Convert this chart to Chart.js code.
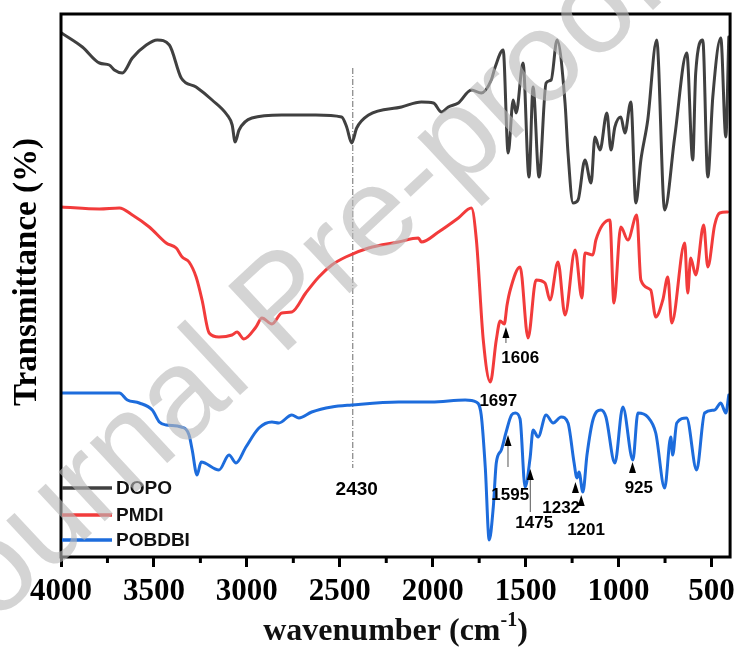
<!DOCTYPE html>
<html><head><meta charset="utf-8">
<script src="https://cdn.jsdelivr.net/npm/chart.js@4.4.1/dist/chart.umd.min.js"></script>
<style>html,body{margin:0;padding:0;background:#fff}#wrap{width:741px;height:647px}</style>
</head><body><div id="wrap"><canvas id="c" width="741" height="647"></canvas></div>
<script>
// ---- data (values in arbitrary transmittance units, offset per curve) ----
const dopoWavenumber = [3997,3885,3793,3740,3713,3670,3616,3541,3482,3417,3353,3273,3187,3106,3079,3063,3042,2973,2812,2629,2490,2463,2436,2409,2345,2168,2061,1996,1953,1916,1862,1792,1739,1685,1664,1621,1594,1567,1551,1514,1482,1460,1428,1390,1363,1331,1288,1272,1245,1218,1181,1148,1127,1100,1063,1041,1020,988,966,934,907,880,843,795,752,698,633,601,585,547,520,493,450,423,407];
const dopoValue      = [524,510,494,492,487,484,499,512,517,512,479,470,457,442,432,415,427,439,442,442,440,430,414,429,442,450,455,454,445,450,454,467,464,477,490,507,404,457,444,494,380,470,380,474,477,517,454,404,354,357,397,374,420,407,444,407,430,440,424,455,354,397,437,517,347,420,504,397,484,517,380,460,519,420,520];

const pmdiWavenumber = [3997,3793,3686,3616,3525,3434,3380,3348,3311,3273,3241,3203,3150,3080,3053,3016,2951,2919,2865,2812,2758,2683,2613,2543,2468,2345,2184,2077,2061,1969,1862,1792,1765,1728,1690,1658,1637,1615,1600,1583,1530,1487,1444,1396,1369,1326,1288,1234,1197,1181,1138,1122,1047,1025,988,950,902,880,827,800,762,735,714,644,628,612,585,542,520,483,456,413];
const pmdiValue      = [350,348,349,342,330,314,309,300,295,280,257,224,220,222,225,218,230,239,233,244,245,264,280,292,300,309,315,319,315,325,339,349,317,217,175,217,236,233,252,267,290,219,277,274,257,295,242,307,259,304,302,317,337,254,330,317,342,277,267,240,257,280,234,314,264,299,282,332,290,332,344,345];

const pobdbiWavenumber = [3997,3686,3643,3579,3509,3471,3434,3353,3311,3294,3268,3246,3150,3096,3058,3005,2935,2865,2828,2758,2720,2651,2543,2436,2184,2007,1825,1766,1739,1717,1696,1674,1658,1631,1605,1576,1556,1530,1503,1476,1460,1433,1390,1352,1309,1272,1240,1224,1213,1192,1170,1138,1095,1068,1020,977,923,896,843,800,752,719,709,687,634,580,537,483,450,423,407];
const pobdbiValue      = [164,164,157,154,147,135,132,130,122,107,82,95,87,102,94,110,129,135,134,142,139,145,150,152,155,155,157,155,142,89,17,50,94,107,125,142,144,138,70,99,127,120,142,134,140,134,95,79,85,65,102,137,147,140,94,150,97,144,140,124,69,120,102,134,139,87,144,147,154,144,162];

const seriesNames  = ['DOPO','PMDI','POBDBI'];
const seriesColors = ['#404040','#f23b3b','#1d6cdc'];

const xTickValues      = [4000,3500,3000,2500,2000,1500,1000,500];
const xMinorTickValues = [3750,3250,2750,2250,1750,1250,750];

const peakLabels          = ['1697','1606','1595','1475','1232','1201','925'];
const peakLabelWavenumber = [1647,1529,1583,1454,1309,1175,891];
const peakLabelValue      = [156,199,62,34,49,27,69];

const arrowWavenumber = [1606,1595,1475,1232,1201,925];
const arrowTipValue   = [230,122,88,75,62,95];
const arrowTailValue  = [214,90,45,65,52,84];

const refLineLabel = '2430';
const refLineWavenumber = 2430;
const refLineRange = [89, 489];
const refLabelWavenumber = 2409;
const refLabelValue = 67;

const yTitle = 'Transmittance (%)';
const xTitleMain = 'wavenumber (cm';
const xTitleSup = '-1';
const xTitleEnd = ')';
const watermark = 'Journal Pre-proof';

// ---- build ----
const series = [
  [dopoWavenumber, dopoValue],
  [pmdiWavenumber, pmdiValue],
  [pobdbiWavenumber, pobdbiValue]
];
const datasets = series.map((s, i) => ({
  label: seriesNames[i],
  data: s[0].map((w, j) => ({x: w, y: s[1][j]})),
  borderColor: seriesColors[i],
  backgroundColor: seriesColors[i],
  borderWidth: 3,
  borderJoinStyle: 'round',
  borderCapStyle: 'round',
  pointRadius: 0,
  cubicInterpolationMode: 'monotone',
  fill: false
}));

const decor = {
  id: 'decor',
  beforeDatasetsDraw(chart) {
    const {ctx, scales: {x, y}} = chart;
    ctx.save();
    ctx.strokeStyle = '#6a6a6a';
    ctx.lineWidth = 1;
    ctx.setLineDash([6, 2, 1, 2]);
    const px = x.getPixelForValue(refLineWavenumber);
    ctx.beginPath();
    ctx.moveTo(px, y.getPixelForValue(refLineRange[1]));
    ctx.lineTo(px, y.getPixelForValue(refLineRange[0]));
    ctx.stroke();
    ctx.restore();
  },
  afterDraw(chart) {
    const {ctx, chartArea: a, scales: {x, y}} = chart;
    ctx.save();
    // minor ticks
    ctx.strokeStyle = '#000';
    ctx.lineWidth = 3;
    xMinorTickValues.forEach(v => {
      const px = x.getPixelForValue(v);
      ctx.beginPath(); ctx.moveTo(px, a.bottom); ctx.lineTo(px, a.bottom + 6); ctx.stroke();
    });
    // frame
    ctx.lineWidth = 3;
    ctx.strokeRect(a.left, a.top, a.right - a.left, a.bottom - a.top);

    // arrows
    arrowWavenumber.forEach((w, i) => {
      const px = x.getPixelForValue(w);
      const tip = y.getPixelForValue(arrowTipValue[i]);
      const tail = y.getPixelForValue(arrowTailValue[i]);
      if (tail - tip > 12) {
        ctx.strokeStyle = '#555';
        ctx.lineWidth = 1;
        ctx.beginPath(); ctx.moveTo(px, tip + 6); ctx.lineTo(px, tail); ctx.stroke();
      }
      ctx.fillStyle = '#000';
      ctx.beginPath();
      ctx.moveTo(px, tip);
      ctx.lineTo(px - 3.5, tip + 11);
      ctx.lineTo(px + 3.5, tip + 11);
      ctx.closePath();
      ctx.fill();
    });

    // peak labels
    ctx.fillStyle = '#000';
    ctx.font = 'bold 17px "Liberation Sans", Arial, sans-serif';
    ctx.textAlign = 'center';
    ctx.textBaseline = 'middle';
    peakLabels.forEach((t, i) => {
      ctx.fillText(t, x.getPixelForValue(peakLabelWavenumber[i]), y.getPixelForValue(peakLabelValue[i]));
    });
    ctx.font = 'bold 19px "Liberation Sans", Arial, sans-serif';
    ctx.fillText(refLineLabel, x.getPixelForValue(refLabelWavenumber), y.getPixelForValue(refLabelValue));

    // legend
    const legY = [a.bottom - 69, a.bottom - 42, a.bottom - 17];
    seriesNames.forEach((n, i) => {
      ctx.strokeStyle = seriesColors[i];
      ctx.lineWidth = 3.5;
      ctx.beginPath(); ctx.moveTo(a.left + 1, legY[i]); ctx.lineTo(a.left + 51, legY[i]); ctx.stroke();
      ctx.fillStyle = '#111';
      ctx.textAlign = 'left';
      ctx.fillText(n, a.left + 55, legY[i] + 1);
    });

    // y title
    ctx.save();
    ctx.translate(27, 272);
    ctx.rotate(-Math.PI / 2);
    ctx.font = 'bold 33px "Liberation Serif", "Times New Roman", serif';
    ctx.textAlign = 'center';
    ctx.textBaseline = 'middle';
    ctx.fillStyle = '#000';
    ctx.fillText(yTitle, 0, 0);
    ctx.restore();

    // x title with superscript
    const fMain = 'bold 32px "Liberation Serif", "Times New Roman", serif';
    const fSup = 'bold 20px "Liberation Serif", "Times New Roman", serif';
    ctx.font = fMain; const w1 = ctx.measureText(xTitleMain).width; const w3 = ctx.measureText(xTitleEnd).width;
    ctx.font = fSup; const w2 = ctx.measureText(xTitleSup).width;
    let sx = (a.left + a.right) / 2 - (w1 + w2 + w3) / 2;
    const base = 640;
    ctx.textAlign = 'left';
    ctx.textBaseline = 'alphabetic';
    ctx.font = fMain; ctx.fillText(xTitleMain, sx, base); sx += w1;
    ctx.font = fSup; ctx.fillText(xTitleSup, sx, base - 14); sx += w2;
    ctx.font = fMain; ctx.fillText(xTitleEnd, sx, base);

    // watermark
    ctx.save();
    ctx.translate(285, 305);
    ctx.rotate(-43 * Math.PI / 180);
    ctx.font = '128px "Liberation Sans", Arial, sans-serif';
    ctx.fillStyle = 'rgba(185,185,185,0.62)';
    ctx.textAlign = 'center';
    ctx.textBaseline = 'middle';
    ctx.fillText(watermark, 0, 0);
    ctx.restore();

    ctx.restore();
  }
};

new Chart(document.getElementById('c'), {
  type: 'line',
  data: {datasets},
  options: {
    responsive: false,
    animation: false,
    devicePixelRatio: 1,
    layout: {padding: {top: 14, right: 9, left: 0, bottom: 0}},
    plugins: {legend: {display: false}, tooltip: {enabled: false}},
    scales: {
      x: {
        type: 'linear', reverse: true, min: 400, max: 4000,
        afterBuildTicks: s => { s.ticks = xTickValues.map(v => ({value: v})); },
        afterFit: s => { s.height = 90; },
        ticks: {
          font: {family: '"Liberation Serif", "Times New Roman", serif', size: 31, weight: 'bold'},
          color: '#000', padding: 6, maxRotation: 0, autoSkip: false,
          callback: v => String(v)
        },
        grid: {drawOnChartArea: false, drawTicks: true, tickLength: 10, tickWidth: 3, tickColor: '#000'},
        border: {display: false}
      },
      y: {
        min: 0, max: 543,
        afterFit: s => { s.width = 61; },
        ticks: {display: false},
        grid: {display: false},
        border: {display: false}
      }
    }
  },
  plugins: [decor]
});
</script>
</body></html>
